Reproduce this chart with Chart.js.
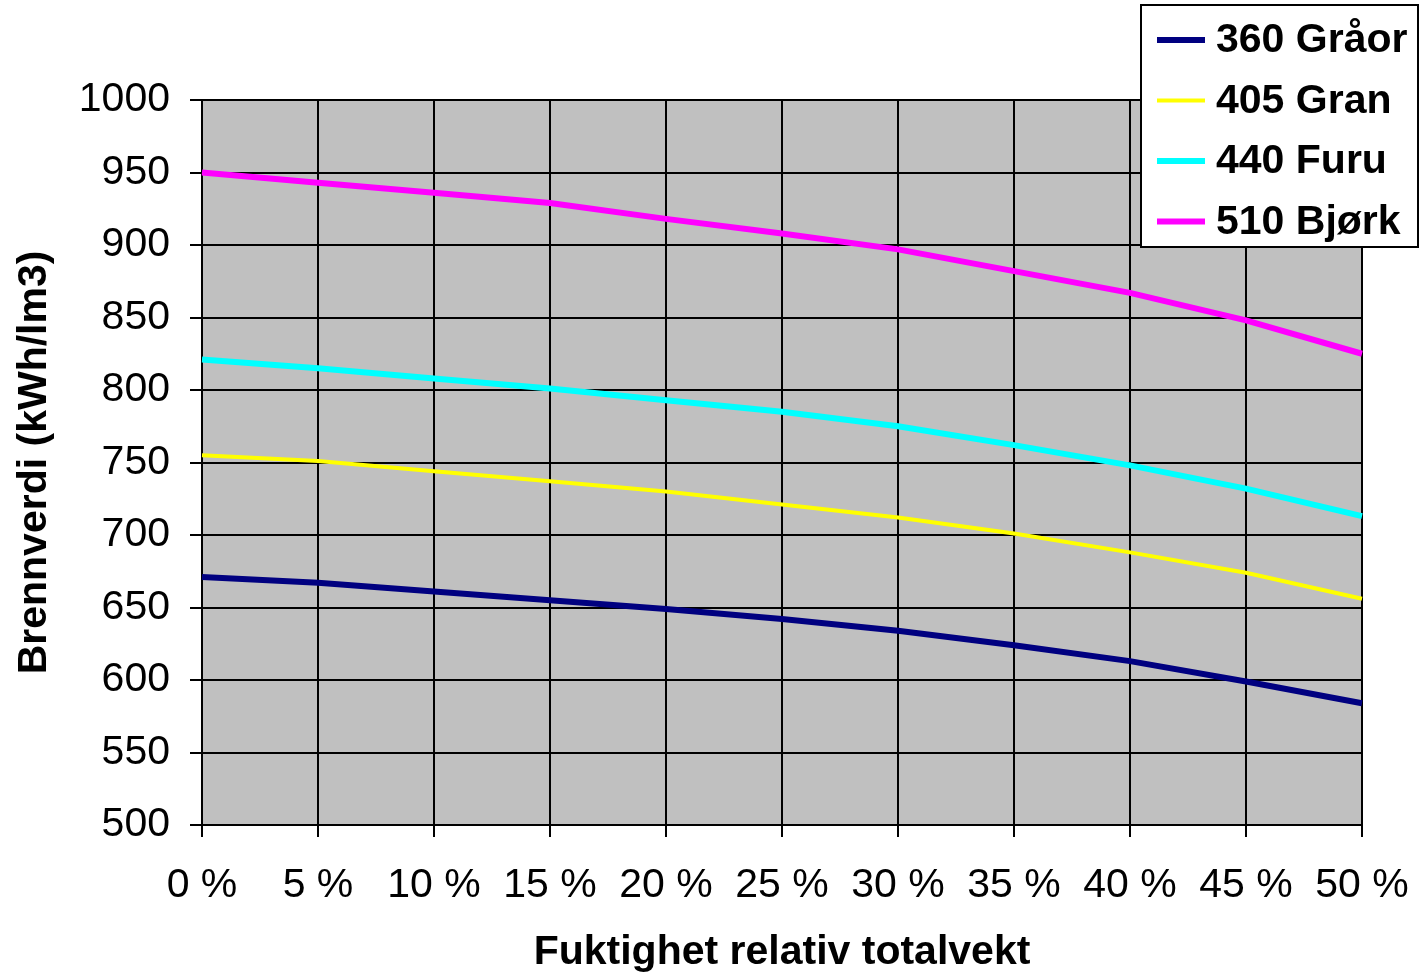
<!DOCTYPE html>
<html>
<head>
<meta charset="utf-8">
<script src="https://cdn.jsdelivr.net/npm/chart.js@4/dist/chart.umd.min.js"></script>
<style>
  body { margin: 0; background: #fff; }
  canvas { display: block; }
</style>
</head>
<body>
<canvas id="grafico" width="1420" height="977"></canvas>
<script>
const fukt = ['0 %', '5 %', '10 %', '15 %', '20 %', '25 %', '30 %', '35 %', '40 %', '45 %', '50 %'];

const graor = [671, 667, 661, 655, 649, 642, 634, 624, 613, 599, 584];
const gran  = [755, 751, 744, 737, 730, 721, 712, 701, 688, 674, 656];
const furu  = [821, 815, 808, 801, 793, 785, 775, 762, 748, 732, 713];
const bjork = [950, 943, 936, 929, 918, 908, 897, 882, 867, 848, 825];

const FONT = '"Liberation Sans", Arial, sans-serif';

// grå bakgrunn i plottet
const bakgrunn = {
  id: 'bakgrunn',
  beforeDraw(chart) {
    const { ctx, chartArea: a } = chart;
    ctx.save();
    ctx.fillStyle = '#C0C0C0';
    ctx.fillRect(a.left, a.top, a.right - a.left, a.bottom - a.top);
    ctx.restore();
  }
};

// legenden ligger oppå plottet, øverst til høyre
const boksLegende = {
  id: 'boksLegende',
  afterDraw(chart) {
    const ctx = chart.ctx;
    const x = 1141, y = 5, w = 277, h = 242;
    ctx.save();
    ctx.fillStyle = '#fff';
    ctx.fillRect(x, y, w, h);
    ctx.strokeStyle = '#000';
    ctx.lineWidth = 2;
    ctx.strokeRect(x, y, w, h);
    ctx.font = 'bold 41px ' + FONT;
    ctx.textBaseline = 'middle';
    ctx.fillStyle = '#000';
    chart.data.datasets.forEach((ds, i) => {
      const ry = 40 + i * 60.5;
      ctx.strokeStyle = ds.borderColor;
      ctx.lineWidth = ds.borderWidth;
      ctx.beginPath();
      ctx.moveTo(1157, ry);
      ctx.lineTo(1205, ry);
      ctx.stroke();
      ctx.fillText(ds.label, 1216, ry + 1);
    });
    ctx.restore();
  }
};

new Chart(document.getElementById('grafico'), {
  type: 'line',
  data: {
    labels: fukt,
    datasets: [
      { label: '360 Gråor', data: graor, borderColor: '#000080', borderWidth: 6 },
      { label: '405 Gran',  data: gran,  borderColor: '#FFFF00', borderWidth: 4 },
      { label: '440 Furu',  data: furu,  borderColor: '#00FFFF', borderWidth: 6 },
      { label: '510 Bjørk', data: bjork, borderColor: '#FF00FF', borderWidth: 6 }
    ]
  },
  options: {
    responsive: false,
    devicePixelRatio: 1,
    animation: false,
    layout: { padding: { top: 100, right: 58, left: 0, bottom: 0 } },
    elements: { point: { radius: 0 }, line: { tension: 0 } },
    plugins: {
      legend: { display: false },
      tooltip: { enabled: false }
    },
    scales: {
      x: {
        offset: false,
        grid: { color: '#000', lineWidth: 2, tickLength: 12 },
        border: { color: '#000', width: 2 },
        ticks: { color: '#000', font: { family: FONT, size: 41 }, padding: 24, maxRotation: 0, autoSkip: false },
        title: {
          display: true,
          text: 'Fuktighet relativ totalvekt',
          color: '#000',
          font: { family: FONT, size: 41, weight: 'bold' },
          padding: { top: 35, bottom: 0 }
        },
        afterFit(scale) {
          scale.height = 977 - 825;
          scale.paddingLeft = 0;
          scale.paddingRight = 0;
        }
      },
      y: {
        min: 500,
        max: 1000,
        grid: { color: '#000', lineWidth: 2, tickLength: 12 },
        border: { color: '#000', width: 2 },
        ticks: {
          stepSize: 50,
          color: '#000',
          font: { family: FONT, size: 41 },
          padding: 20,
          callback: v => String(v)
        },
        title: {
          display: true,
          text: 'Brennverdi (kWh/lm3)',
          color: '#000',
          font: { family: FONT, size: 41, weight: 'bold' },
          padding: { top: 10, bottom: 0 }
        },
        afterFit(scale) { scale.width = 202; }
      }
    }
  },
  plugins: [bakgrunn, boksLegende]
});
</script>
</body>
</html>
